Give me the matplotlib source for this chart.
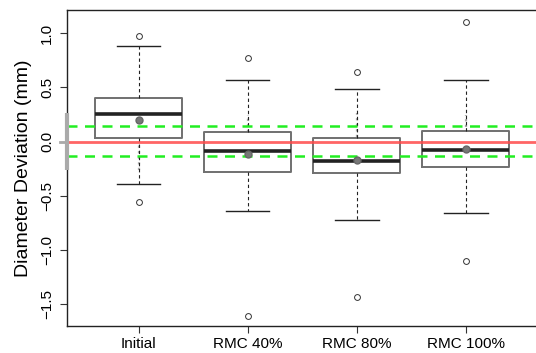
import matplotlib
matplotlib.use("Agg")
import matplotlib.pyplot as plt

# ---- data ----
categories = ["Initial", "RMC 40%", "RMC 80%", "RMC 100%"]
q1 = [0.037, -0.282, -0.291, -0.233]
q3 = [0.400, 0.087, 0.034, 0.096]
medians = [0.255, -0.083, -0.178, -0.076]
means = [0.197, -0.116, -0.171, -0.067]
whisker_lo = [-0.393, -0.641, -0.724, -0.660]
whisker_hi = [0.879, 0.566, 0.483, 0.566]
outliers = [[0.977, -0.556], [0.774, -1.604], [0.640, -1.434], [1.100, -1.097]]
gray_seg_lo = [-0.260, 0.090, 0.046, 0.138]
gray_seg_hi = [0.000, 0.245, 0.264, 0.245]
reference_line = 0.0
tolerance_hi = 0.143
tolerance_lo = -0.131
range_bar = (-0.26, 0.264)
yticks = [-1.5, -1.0, -0.5, 0.0, 0.5, 1.0]

plt.rcParams['font.family'] = ['Liberation Sans', 'DejaVu Sans']

fig = plt.figure(figsize=(5.36, 3.53), dpi=100)
ax = fig.add_axes([66.7 / 536, 27 / 353, 471 / 536, 316 / 353])

positions = list(range(1, len(categories) + 1))
stats = []
for i, c in enumerate(categories):
    stats.append(dict(label=c, med=medians[i], q1=q1[i], q3=q3[i],
                      whislo=whisker_lo[i], whishi=whisker_hi[i],
                      fliers=outliers[i], mean=means[i]))

# gray dotted segments (behind)
for p, lo, hi in zip(positions, gray_seg_lo, gray_seg_hi):
    ax.plot([p, p], [lo, hi], color='#aaaaaa', lw=1.6, ls=(0, (1, 1.5)), zorder=2)

ax.bxp(stats, positions=positions, widths=0.8, showmeans=False,
       patch_artist=False,
       boxprops=dict(color='#707070', lw=1.4),
       whiskerprops=dict(color='#222222', lw=0.8, ls=(0, (3, 2.5))),
       capprops=dict(color='#222222', lw=1.0),
       medianprops=dict(color='#222222', lw=2.6),
       flierprops=dict(marker='o', markersize=4.2, markerfacecolor='none',
                       markeredgecolor='#333333', markeredgewidth=0.7),
       capwidths=0.4, manage_ticks=False, zorder=3)

ax.plot(positions, means, 'o', color='#777777', markersize=5,
        markeredgecolor='#666666', zorder=5, ls='none')

ax.axhline(reference_line, color='#ff4a4a', lw=2.0, alpha=0.85, zorder=4)
ax.axhline(tolerance_hi, color='#22ee22', lw=1.8, ls=(0, (4, 3)), zorder=4)
ax.axhline(tolerance_lo, color='#22ee22', lw=1.8, ls=(0, (4, 3)), zorder=4)

ax.set_xlim(0.34, 4.66)
ax.set_ylim(-1.699, 1.214)

# gray range bar at left edge
ax.plot([0.34, 0.34], list(range_bar), color='#aaaaaa', lw=3.0,
        solid_capstyle='butt', zorder=6, clip_on=False)
ax.plot([0.28, 0.34], [0, 0], color='#aaaaaa', lw=2.0, zorder=6, clip_on=False)

ax.set_xticks(positions)
ax.set_xticklabels(categories, fontsize=11)
ax.set_yticks(yticks)
ax.set_yticklabels([f"{v:.1f}".replace('-', '\u2212') for v in yticks],
                   fontsize=11, rotation=90, va='center')
ax.tick_params(axis='both', length=5, width=0.8, color='#333333', pad=4)
ax.tick_params(axis='x', pad=3)
for s in ax.spines.values():
    s.set_color('#222222')
    s.set_linewidth(1.0)

ax.set_ylabel("Diameter Deviation (mm)", fontsize=14, labelpad=6)

fig.savefig("out.png", dpi=100)
